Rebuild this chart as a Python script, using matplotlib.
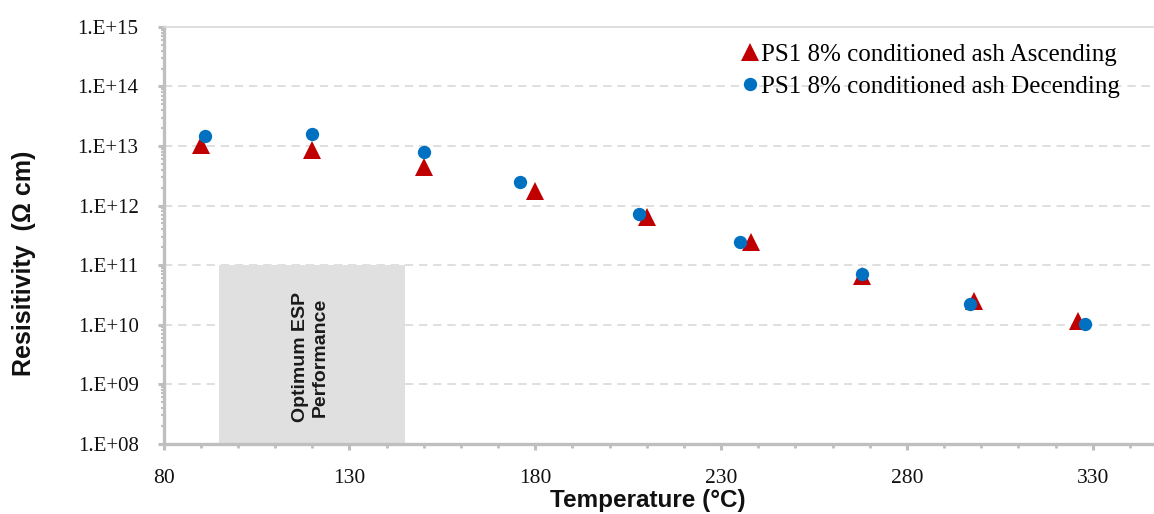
import numpy as np
import matplotlib
matplotlib.use('Agg')
import matplotlib.pyplot as plt
from matplotlib.patches import Rectangle
from matplotlib.ticker import MultipleLocator, LogLocator, NullFormatter, FuncFormatter

temp_asc = [90, 120, 150, 180, 210, 238, 268, 298, 326]
res_asc = [1.05e13, 8.5e12, 4.4e12, 1.75e12, 6.5e11, 2.4e11, 6.5e10, 2.5e10, 1.15e10]
temp_desc = [91, 120, 150, 176, 208, 235, 268, 297, 328]
res_desc = [1.48e13, 1.6e13, 7.8e12, 2.5e12, 7.2e11, 2.4e11, 7.1e10, 2.2e10, 1.02e10]
label_asc = "PS1 8% conditioned ash Ascending"
label_desc = "PS1 8% conditioned ash Decending"
x_ticks = [80, 130, 180, 230, 280, 330]
esp_window = (95, 145)          # optimum ESP temperature range (deg C)
esp_res = (1e8, 1e11)

RED = "#C00000"
BLUE = "#0070C0"
AXIS_GREY = "#bfbfbf"
GRID_GREY = "#d9d9d9"
SERIF = "Liberation Serif"
SANS = "Liberation Sans"

fig = plt.figure(figsize=(11.54, 5.14), dpi=100)
ax = fig.add_axes([0.1418, 0.137, 1.0 - 0.1418, 0.9475 - 0.137])

ax.set_yscale('log')
ax.set_xlim(80, 346.5)
ax.set_ylim(1e8, 1e15)

# shaded optimum band
ax.add_patch(Rectangle((esp_window[0], esp_res[0]), esp_window[1] - esp_window[0],
                       esp_res[1] - esp_res[0], facecolor="#e0e0e0", edgecolor='none', zorder=1))
ax.text(np.mean(esp_window) - 0.5, 10 ** 9.45, "Optimum ESP\nPerformance", rotation=90,
        ha='center', va='center', fontsize=14, fontweight='bold', family=SANS,
        color="#1a1a1a", linespacing=1.2, zorder=2)

ax.plot(temp_asc, res_asc, linestyle='none', marker='^', markersize=12.5, color=RED,
        markeredgewidth=0, label=label_asc, zorder=3)
ax.plot(temp_desc, res_desc, linestyle='none', marker='o', markersize=9.6, color=BLUE,
        markeredgewidth=0, label=label_desc, zorder=4)

# gridlines at the inner decades only
for e in range(9, 15):
    ax.axhline(10.0 ** e, color=GRID_GREY, linestyle=(0, (5, 3.5)), linewidth=1.2, zorder=0)

# spines
ax.spines['right'].set_visible(False)
ax.spines['top'].set_color(GRID_GREY)
ax.spines['top'].set_linewidth(1.2)
for s in ('left', 'bottom'):
    ax.spines[s].set_color(AXIS_GREY)
    ax.spines[s].set_linewidth(2.4)

# ticks
ax.set_xticks(x_ticks)
ax.set_xticklabels([str(t) for t in x_ticks])
ax.xaxis.set_minor_locator(MultipleLocator(10))
ax.yaxis.set_major_locator(LogLocator(base=10, numticks=20))
ax.yaxis.set_minor_locator(LogLocator(base=10, subs=np.arange(2, 10), numticks=20))
ax.yaxis.set_minor_formatter(NullFormatter())
ax.yaxis.set_major_formatter(FuncFormatter(lambda v, p: "1.E+%02d" % int(round(np.log10(v)))))
ax.tick_params(axis='both', which='major', direction='out', length=4, width=2.2,
               color=AXIS_GREY, labelcolor="#111111")
ax.tick_params(axis='x', which='minor', direction='out', length=3, width=2.0, color=AXIS_GREY)
ax.tick_params(axis='y', which='minor', direction='out', length=2, width=1.5, color=AXIS_GREY)
ax.tick_params(axis='x', which='major', pad=14, labelsize=15.5)
ax.tick_params(axis='y', which='major', pad=14, labelsize=15)
for lbl in ax.get_xticklabels() + ax.get_yticklabels():
    lbl.set_family(SERIF)

fig.text(648 / 1154, 1 - 500 / 514, "Temperature (\u00b0C)", ha='center', va='center',
         fontsize=17.5, fontweight='bold', family=SANS, color="#111111")
fig.text(24 / 1154, 1 - 263 / 514, "Resisitivity  (\u03a9 cm)", ha='center', va='center',
         rotation=90, fontsize=18, fontweight='bold', family=SANS, color="#111111")

leg = ax.legend(loc='upper right', bbox_to_anchor=(1130 / 1154, 1 - 33 / 514),
                bbox_transform=fig.transFigure, frameon=False, handlelength=0.6,
                handletextpad=0.15, borderaxespad=0, labelspacing=0.4,
                prop={'family': SERIF, 'size': 18})

fig.savefig('out.png', dpi=100)
